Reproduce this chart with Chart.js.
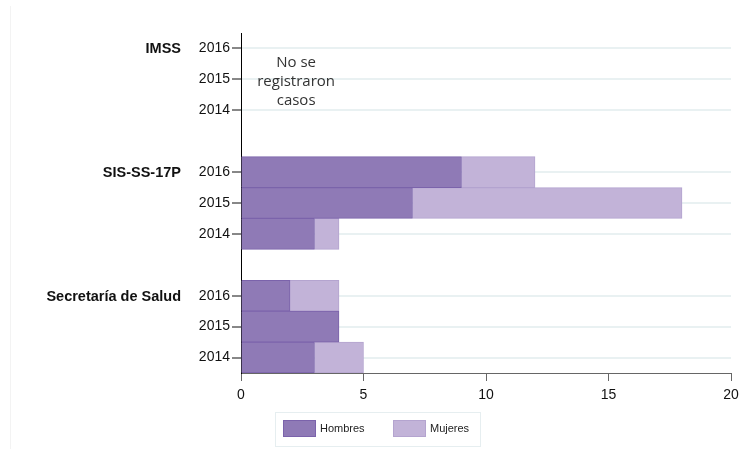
<!DOCTYPE html>
<html>
<head>
<meta charset="utf-8">
<script src="https://cdn.jsdelivr.net/npm/chart.js@4"></script>
<style>
html,body{margin:0;padding:0;background:#fff;}
#wrap{width:751px;height:449px;position:relative;}
</style>
</head>
<body>
<div id="wrap"><canvas id="c" width="751" height="449"></canvas></div>
<script>
// Data
const groups = ["IMSS", "SIS-SS-17P", "Secretaría de Salud"];
const years = ["2016", "2015", "2014"];
const categories = ["IMSS 2016","IMSS 2015","IMSS 2014","",
                    "SIS 2016","SIS 2015","SIS 2014","",
                    "Salud 2016","Salud 2015","Salud 2014"];
const yearLabels = ["2016","2015","2014","","2016","2015","2014","","2016","2015","2014"];
const hombres = [null,null,null,null, 9,7,3, null, 2,4,3];
const mujeres = [null,null,null,null, 3,11,1, null, 2,0,2];
const xTicks = [0,5,10,15,20];
const noteLines = ["No se", "registraron", "casos"];
const groupFirstIndex = [0, 4, 8];

const cH = '#8f7ab6', cHb = '#7b63ab';
const cM = '#c2b3d8', cMb = '#b4a4cf';

const extras = {
  id: 'extras',
  beforeDraw(chart) {
    const c = chart.ctx;
    c.save();
    c.strokeStyle = '#f3f3f3';
    c.lineWidth = 1;
    c.beginPath(); c.moveTo(10.5, 6); c.lineTo(10.5, 449); c.stroke();
    c.restore();
  },
  afterDraw(chart) {
    const c = chart.ctx;
    const ys = chart.scales.y, xs = chart.scales.x;
    c.save();
    // group labels
    c.font = 'bold 14.5px "Liberation Sans", Arial, sans-serif';
    c.fillStyle = '#111';
    c.textAlign = 'right';
    c.textBaseline = 'middle';
    groups.forEach((g, i) => {
      c.fillText(g, 181, ys.getPixelForValue(groupFirstIndex[i]) + 1);
    });
    // note
    c.font = '15px "Open Sans", sans-serif';
    c.fillStyle = '#333';
    c.textAlign = 'center';
    const cx = xs.getPixelForValue(2.25);
    const cy = ys.getPixelForValue(1) + 2;
    noteLines.forEach((t, i) => c.fillText(t, cx, cy + (i - 1) * 19));
    // legend
    c.strokeStyle = '#e6eef0';
    c.lineWidth = 1;
    c.strokeRect(275.5, 412.5, 205, 34);
    c.fillStyle = cH; c.fillRect(283, 420, 33, 17);
    c.strokeStyle = cHb; c.strokeRect(283.5, 420.5, 32, 16);
    c.fillStyle = cM; c.fillRect(393, 420, 33, 17);
    c.strokeStyle = cMb; c.strokeRect(393.5, 420.5, 32, 16);
    c.font = '11px "Liberation Sans", Arial, sans-serif';
    c.fillStyle = '#222';
    c.textAlign = 'left';
    c.fillText('Hombres', 320, 429);
    c.fillText('Mujeres', 430, 429);
    c.restore();
  }
};

new Chart(document.getElementById('c'), {
  type: 'bar',
  data: {
    labels: categories,
    datasets: [
      { label: 'Hombres', data: hombres, backgroundColor: cH, borderColor: cHb, borderWidth: 1,
        barPercentage: 1, categoryPercentage: 1 },
      { label: 'Mujeres', data: mujeres, backgroundColor: cM, borderColor: cMb, borderWidth: 1,
        barPercentage: 1, categoryPercentage: 1 }
    ]
  },
  options: {
    indexAxis: 'y',
    responsive: false,
    animation: false,
    layout: { padding: { left: 0, right: 20, top: 33, bottom: 0 } },
    plugins: { legend: { display: false }, tooltip: { enabled: false } },
    scales: {
      x: {
        stacked: true, min: 0, max: 20,
        afterBuildTicks(s) { s.ticks = xTicks.map(v => ({ value: v })); },
        afterFit(s) { s.height = 76; },
        grid: { display: true, drawOnChartArea: false, drawTicks: true, tickLength: 8, color: '#666', tickColor: '#666' },
        border: { display: true, color: '#666', width: 1 },
        ticks: { color: '#111', font: { family: '"Liberation Sans", Arial, sans-serif', size: 14 }, padding: 6, maxRotation: 0 }
      },
      y: {
        stacked: true,
        afterFit(s) { s.width = 241; },
        grid: {
          offset: false,
          color: ctx => (yearLabels[ctx.index]) ? '#e9f1f2' : 'rgba(0,0,0,0)',
          tickColor: ctx => (yearLabels[ctx.index]) ? '#111' : 'rgba(0,0,0,0)',
          lineWidth: 2, tickWidth: 1, tickLength: 9, drawTicks: true
        },
        border: { display: true, color: '#000', width: 1 },
        ticks: {
          autoSkip: false,
          color: '#111', font: { family: '"Liberation Sans", Arial, sans-serif', size: 14 }, padding: 2,
          callback: (v, i) => yearLabels[i]
        }
      }
    }
  },
  plugins: [extras]
});
</script>
</body>
</html>
